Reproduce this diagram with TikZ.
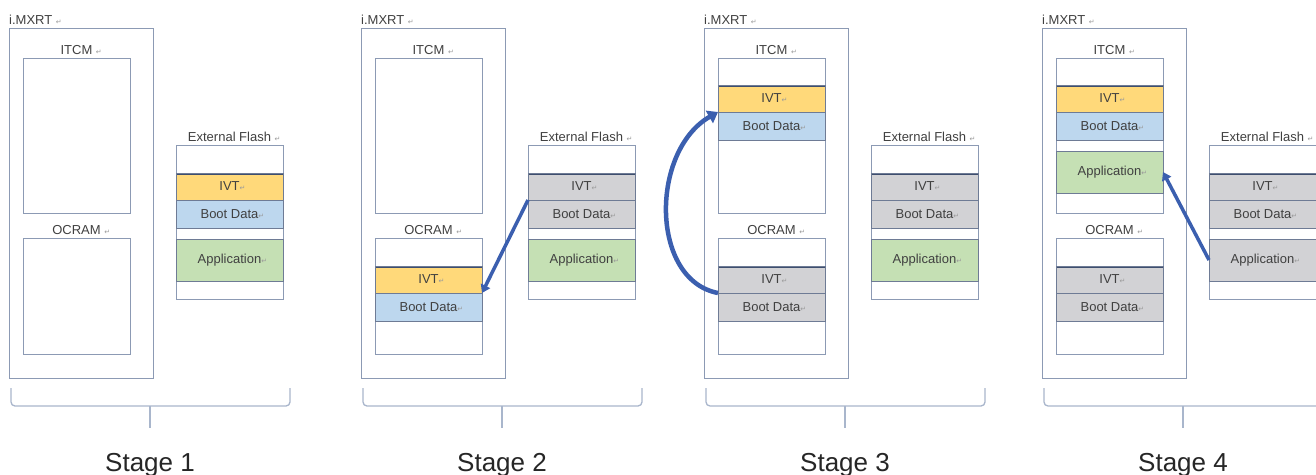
\documentclass[tikz,border=0pt]{standalone}
\usepackage{fontspec}
\setmainfont{Liberation Sans}
\newfontfamily\dejavu{DejaVu Sans}
\usepackage{tikz}
\usetikzlibrary{arrows.meta}
\definecolor{edgex}{HTML}{8C9AB4}
\definecolor{rowx}{HTML}{6E7B95}
\definecolor{navyx}{HTML}{3E4E6E}
\definecolor{ivtx}{HTML}{FFD97A}
\definecolor{bootx}{HTML}{BDD7EE}
\definecolor{appx}{HTML}{C5E0B4}
\definecolor{oldx}{HTML}{D2D2D5}
\definecolor{arrx}{HTML}{3B5FAF}
\definecolor{bracex}{HTML}{A9B6CC}
\definecolor{txtx}{HTML}{404040}
\definecolor{markx}{HTML}{9A9A9A}
\newcommand{\retmark}{{\dejavu\fontsize{7}{7}\selectfont\color{markx}↵}}
\tikzset{
  chip/.style={draw=edgex,line width=1pt,minimum width=144pt,minimum height=350pt,inner sep=0pt,outer sep=0pt,anchor=north west},
  mem/.style={draw=edgex,line width=1pt,minimum width=107pt,inner sep=0pt,outer sep=0pt,anchor=north west},
  lbl/.style={font=\fontsize{13}{15}\selectfont,text=txtx,inner sep=0pt,anchor=base},
  row/.style={draw=rowx,line width=0.9pt,minimum width=107pt,inner sep=0pt,outer sep=0pt,anchor=north west,font=\fontsize{13}{15}\selectfont,text=txtx},
  ivt/.style={row,fill=#1,minimum height=27pt,path picture={\draw[navyx,line width=3pt] (path picture bounding box.north west) -- (path picture bounding box.north east);}},
  boot/.style={row,fill=#1,minimum height=28pt},
  app/.style={row,fill=#1,minimum height=42pt},
  cp/.style={-{Triangle[length=8pt,width=10pt]},line width=3.5pt,arrx},
  brc/.style={bracex,line width=1.3pt,rounded corners=4pt},
  stg/.style={font=\fontsize{26}{30}\selectfont,text=black!85,anchor=base}
}
\begin{document}
\begin{tikzpicture}[x=1pt,y=-1pt]
\useasboundingbox (0,0) rectangle (1316,474);
\fill[white] (0,0) rectangle (1316,474);
% frames common to every stage
\foreach \s/\X in {1/9,2/361,3/704,4/1042}{
  \node[chip] (chip\s) at (\X,28) {};
  \node[lbl,anchor=base west] (chipl\s) at ([yshift=4pt]chip\s.north west) {i.MXRT\rlap{\ \retmark}};
  \node[mem,minimum height=155pt] (itcm\s) at (\X+14,58) {};
  \node[lbl] (itcml\s) at ([yshift=4pt]itcm\s.north) {ITCM\rlap{\ \retmark}};
  \node[mem,minimum height=116pt] (ocram\s) at (\X+14,238) {};
  \node[lbl] (ocraml\s) at ([yshift=4pt]ocram\s.north) {OCRAM\rlap{\ \retmark}};
  \node[mem,minimum height=154pt] (flash\s) at (\X+167,145) {};
  \node[lbl] (flashl\s) at ([yshift=4pt]flash\s.north) {External Flash\rlap{\ \retmark}};
  \draw[brc] (\X+2,388) -- (\X+2,406) -- (\X+281,406) -- (\X+281,388);
  \draw[brc] (\X+141,406) -- (\X+141,428);
  \node[stg] (stage\s) at (\X+141,471) {Stage \s};
}
% stage 1
\node[ivt=ivtx] (f1ivt) at ([yshift=-28pt]flash1.north west) {IVT\rlap{\retmark}};
\node[boot=bootx] (f1boot) at (f1ivt.south west) {Boot Data\rlap{\retmark}};
\node[app=appx] (f1app) at ([yshift=-11pt]f1boot.south west) {Application\rlap{\retmark}};
% stage 2
\node[ivt=ivtx] (o2ivt) at ([yshift=-28pt]ocram2.north west) {IVT\rlap{\retmark}};
\node[boot=bootx] (o2boot) at (o2ivt.south west) {Boot Data\rlap{\retmark}};
\node[ivt=oldx] (f2ivt) at ([yshift=-28pt]flash2.north west) {IVT\rlap{\retmark}};
\node[boot=oldx] (f2boot) at (f2ivt.south west) {Boot Data\rlap{\retmark}};
\node[app=appx] (f2app) at ([yshift=-11pt]f2boot.south west) {Application\rlap{\retmark}};
\draw[cp] (f2ivt.south west) -- (o2ivt.south east);
% stage 3
\node[ivt=ivtx] (i3ivt) at ([yshift=-27pt]itcm3.north west) {IVT\rlap{\retmark}};
\node[boot=bootx] (i3boot) at (i3ivt.south west) {Boot Data\rlap{\retmark}};
\node[ivt=oldx] (o3ivt) at ([yshift=-28pt]ocram3.north west) {IVT\rlap{\retmark}};
\node[boot=oldx] (o3boot) at (o3ivt.south west) {Boot Data\rlap{\retmark}};
\node[ivt=oldx] (f3ivt) at ([yshift=-28pt]flash3.north west) {IVT\rlap{\retmark}};
\node[boot=oldx] (f3boot) at (f3ivt.south west) {Boot Data\rlap{\retmark}};
\node[app=appx] (f3app) at ([yshift=-11pt]f3boot.south west) {Application\rlap{\retmark}};
\draw[cp,line width=4.5pt,-{Triangle[length=10pt,width=14pt]}] (o3ivt.south west) .. controls +(-68,-13) and +(-68,39) .. (i3ivt.south west);
% stage 4
\node[ivt=ivtx] (i4ivt) at ([yshift=-27pt]itcm4.north west) {IVT\rlap{\retmark}};
\node[boot=bootx] (i4boot) at (i4ivt.south west) {Boot Data\rlap{\retmark}};
\node[app=appx] (i4app) at ([yshift=-11pt]i4boot.south west) {Application\rlap{\retmark}};
\node[ivt=oldx] (o4ivt) at ([yshift=-28pt]ocram4.north west) {IVT\rlap{\retmark}};
\node[boot=oldx] (o4boot) at (o4ivt.south west) {Boot Data\rlap{\retmark}};
\node[ivt=oldx] (f4ivt) at ([yshift=-28pt]flash4.north west) {IVT\rlap{\retmark}};
\node[boot=oldx] (f4boot) at (f4ivt.south west) {Boot Data\rlap{\retmark}};
\node[app=oldx] (f4app) at ([yshift=-11pt]f4boot.south west) {Application\rlap{\retmark}};
\draw[cp] (f4app.west) -- (i4app.east);
\end{tikzpicture}
\end{document}
